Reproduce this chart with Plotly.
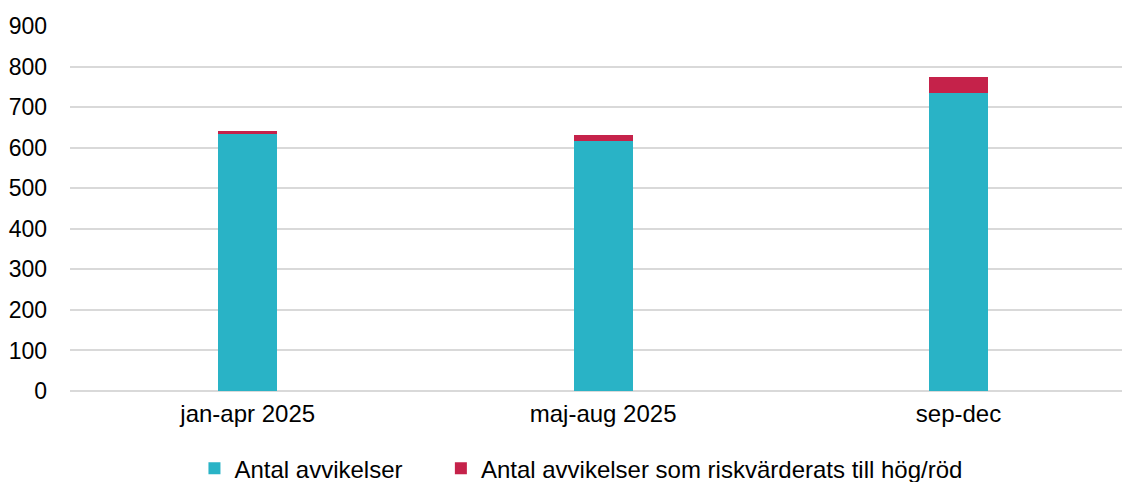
import plotly.graph_objects as go

categories = ["jan-apr 2025", "maj-aug 2025", "sep-dec"]
antal = [634, 616, 735]
hog_rod = [7, 15, 39]
series_names = ["Antal avvikelser\u00a0\u00a0\u00a0\u00a0\u00a0", "Antal avvikelser som riskvärderats till hög/röd"]
y_ticks = [0, 100, 200, 300, 400, 500, 600, 700, 800, 900]

fig = go.Figure()
fig.add_trace(go.Bar(x=categories, y=antal, name=series_names[0],
                     marker=dict(color="#29B3C6", line=dict(width=0)), width=0.166))
fig.add_trace(go.Bar(x=categories, y=hog_rod, name=series_names[1],
                     marker=dict(color="#C5224A", line=dict(width=0)), width=0.166))

font = "Liberation Sans, Arial, sans-serif"
fig.update_layout(
    barmode="stack",
    width=1122, height=482,
    margin=dict(l=70, r=0, t=26, b=91, autoexpand=False),
    plot_bgcolor="white", paper_bgcolor="white",
    font=dict(family=font, size=24, color="#000000"),
    showlegend=True,
    legend=dict(orientation="h", x=0.4857, xanchor="center", y=-0.213, yanchor="middle",
                font=dict(size=24), itemwidth=30, traceorder="normal",
                tracegroupgap=0, bgcolor="rgba(0,0,0,0)"),
    xaxis=dict(range=[-0.5, 2.46], showgrid=False, zeroline=False,
               showline=False, ticks="", tickfont=dict(size=24),
               ticklabelstandoff=6),
    yaxis=dict(range=[0, 900], tickvals=y_ticks, showgrid=True,
               gridcolor="#D9D9D9", gridwidth=2, zeroline=True,
               zerolinecolor="#D9D9D9", zerolinewidth=2,
               showline=False, ticks="", tickfont=dict(size=23),
               ticklabelstandoff=22),
)
fig.write_html("out.html", config={"displayModeBar": False},
               post_script="document.body.style.margin='0';document.body.style.overflow='hidden';")
